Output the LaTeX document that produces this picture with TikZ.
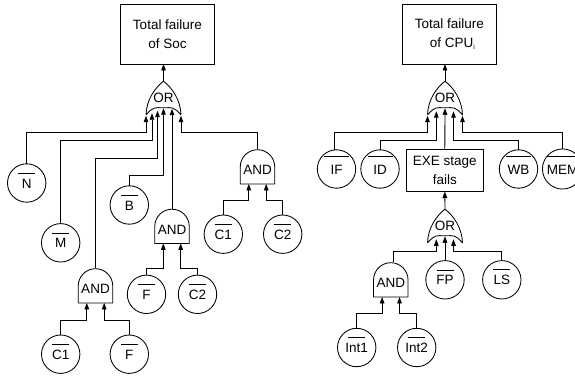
\documentclass[tikz,border=0pt]{standalone}
\usepackage{fontspec}
\setmainfont{Liberation Sans}
\usetikzlibrary{arrows.meta,calc}
\newcommand\ovbar[3]{\vbox{\offinterlineskip\hrule width #1 height .8pt\vskip #2\hbox to #1{\hss\rule{0pt}{10pt}#3\hss}\vskip \dimexpr #2 + .8pt\relax}}
\newcommand\andtext{\raisebox{0pt}[15.7pt][0pt]{AND}}
\newcommand\orshape[1]{\draw[gateline] (#1.south west) .. controls +(0.5,-15.5) and +(-8,6) .. (#1.north) .. controls +(8,6) and +(-0.5,-15.5) .. (#1.south east) .. controls +(-8,-8.5) and +(9,0) .. ($(#1.south)+(0,-7)$) .. controls +(-9,0) and +(8,-8.5) .. (#1.south west);}
\newcommand\andshape[1]{\draw[gateline] (#1.south west) -- (#1.south east) -- ++(0,-17) arc[start angle=0,end angle=180,radius=17.25pt] -- cycle;
 \coordinate (#1l) at ($(#1.south)+(-8.7,0)$);\coordinate (#1r) at ($(#1.south)+(8.7,0)$);}
\tikzset{
 x=1pt,y=-1pt,
 gateline/.style={line width=.85pt,line join=round},
 wire/.style={line width=.85pt,-{Triangle[length=6.5pt,width=4.6pt]}},
 txt/.style={font=\fontsize{13.5}{19}\selectfont},
 ev/.style={txt,circle,draw,line width=.85pt,minimum size=38.4pt,inner sep=0pt,outer sep=0pt},
 boxn/.style={txt,draw,line width=.85pt,align=center,inner sep=0pt,outer sep=0pt},
 orn/.style={txt,inner sep=0pt,outer sep=0pt,minimum width=35pt,minimum height=33.5pt},
 andn/.style={txt,inner sep=0pt,outer sep=0pt,minimum width=34.5pt,minimum height=34.5pt},
}
\begin{document}
\begin{tikzpicture}
\useasboundingbox (0,0) rectangle (575,377);
% ---------- left tree
\node[boxn,minimum width=94pt,minimum height=59.5pt] (boxA) at (167.5,34.25) {Total failure\\of Soc};
\node[orn] (orA) at (163.5,98) {OR}; \orshape{orA}
\coordinate (a1) at ($(orA.south)+(-17.5,1)$);
\coordinate (a2) at ($(orA.south)+(-11.5,-1.5)$);
\coordinate (a3) at ($(orA.south)+(-6,-4)$);
\coordinate (a4) at ($(orA.south)+(0,-6.5)$);
\coordinate (a5) at ($(orA.south)+(8.5,-6)$);
\coordinate (a6) at ($(orA.south)+(17.5,1)$);
\node[andn] (andA) at (95.5,285.7) {\andtext}; \andshape{andA}
\node[andn] (andB) at (172,226.2) {\andtext}; \andshape{andB}
\node[andn] (andC) at (257.5,166.7) {\andtext}; \andshape{andC}
\node[ev] (n) at (26.7,183) {\ovbar{17pt}{4.5pt}{N}};
\node[ev] (m) at (60.7,242.8) {\ovbar{17pt}{4.5pt}{M}};
\node[ev] (b) at (129.3,205) {\ovbar{17pt}{4.5pt}{B}};
\node[ev] (ca) at (60.7,354.2) {\ovbar{17pt}{4.5pt}{C1}};
\node[ev] (fa) at (129.3,354.2) {\ovbar{17pt}{4.5pt}{F}};
\node[ev] (fb) at (146.5,294.3) {\ovbar{17pt}{4.5pt}{F}};
\node[ev] (cb) at (197.5,294.3) {\ovbar{17pt}{4.5pt}{C2}};
\node[ev] (cc) at (223.3,234.2) {\ovbar{17pt}{4.5pt}{C1}};
\node[ev] (cd) at (282.7,234.2) {\ovbar{17pt}{4.5pt}{C2}};
\draw[wire] (orA.north) -- (orA.north |- boxA.south);
\draw[wire] (n.north) -- (n.north |- 0,132) -| (a1);
\draw[wire] (m.north) -- (m.north |- 0,140) -| (a2);
\draw[wire] (andA.north) -- (andA.north |- 0,158) -| (a3);
\draw[wire] (b.north) -- (b.north |- 0,175) -| (a4);
\draw[wire] (andB.north) -- (a5);
\draw[wire] (andC.north) -- (andC.north |- 0,132) -| (a6);
\draw[wire] (ca.north) -- (ca.north |- 0,320) -| (andAl);
\draw[wire] (fa.north) -- (fa.north |- 0,320) -| (andAr);
\draw[wire] (fb.north) -- (fb.north |- 0,268.7) -| (andBl);
\draw[wire] (cb.north) -- (cb.north |- 0,268.7) -| (andBr);
\draw[wire] (cc.north) -- (cc.north |- 0,200.5) -| (andCl);
\draw[wire] (cd.north) -- (cd.north |- 0,200.5) -| (andCr);
% ---------- right tree
\node[boxn,minimum width=94pt,minimum height=59.5pt] (boxB) at (449.3,34.25) {Total failure\\\hspace*{6pt}of CPU\raisebox{-2pt}{\fontsize{7}{7}\selectfont i}};
\node[orn] (orB) at (445,98) {OR}; \orshape{orB}
\coordinate (b1) at ($(orB.south)+(-17.5,1)$);
\coordinate (b2) at ($(orB.south)+(-8.7,-3.5)$);
\coordinate (b3) at ($(orB.south)+(0,-6.5)$);
\coordinate (b4) at ($(orB.south)+(8.5,-3.5)$);
\coordinate (b5) at ($(orB.south)+(17.5,1)$);
\node[ev] (if) at (336.5,169) {\ovbar{25pt}{7pt}{IF}};
\node[ev] (id) at (380,169) {\ovbar{25pt}{7pt}{ID}};
\node[ev] (wb) at (518.5,169) {\ovbar{25pt}{7pt}{WB}};
\node[ev] (mem) at (562.5,169) {\ovbar{31pt}{7pt}{MEM}};
\node[boxn,minimum width=77pt,minimum height=42pt] (exe) at (444.8,170.5) {EXE stage\\fails};
\node[orn] (orC) at (445,226) {OR}; \orshape{orC}
\coordinate (c1) at ($(orC.south)+(-8.7,-3.5)$);
\coordinate (c2) at ($(orC.south)+(0,-6.5)$);
\coordinate (c3) at ($(orC.south)+(8.5,-3.5)$);
\node[andn] (andD) at (390.8,279.7) {\andtext}; \andshape{andD}
\node[ev] (fp) at (445,279.8) {\ovbar{17pt}{4.5pt}{FP}};
\node[ev] (ls) at (501.8,279.8) {\ovbar{17pt}{4.5pt}{LS}};
\node[ev] (ia) at (356.7,347.5) {\ovbar{17pt}{4.5pt}{Int1}};
\node[ev] (ib) at (416.7,347.5) {\ovbar{17pt}{4.5pt}{Int2}};
\draw[wire] (orB.north) -- (orB.north |- boxB.south);
\draw[wire] (if.97.5) -- (if.97.5 |- 0,132) -| (b1);
\draw[wire] (id.north) -- (id.north |- 0,140) -| (b2);
\draw[wire] (exe.north) -- (b3);
\draw[wire] (wb.north) -- (wb.north |- 0,140) -| (b4);
\draw[wire] (mem.north) -- (mem.north |- 0,132) -| (b5);
\draw[wire] (orC.north) -- (exe.south);
\draw[wire] (andD.82) -- (andD.82 |- 0,251.7) -| (c1);
\draw[wire] (fp.north) -- (c2);
\draw[wire] (ls.north) -- (ls.north |- 0,251.7) -| (c3);
\draw[wire] (ia.north) -- (ia.north |- 0,313.3) -| (andDl);
\draw[wire] (ib.north) -- (ib.north |- 0,313.3) -| (andDr);
\end{tikzpicture}
\end{document}
